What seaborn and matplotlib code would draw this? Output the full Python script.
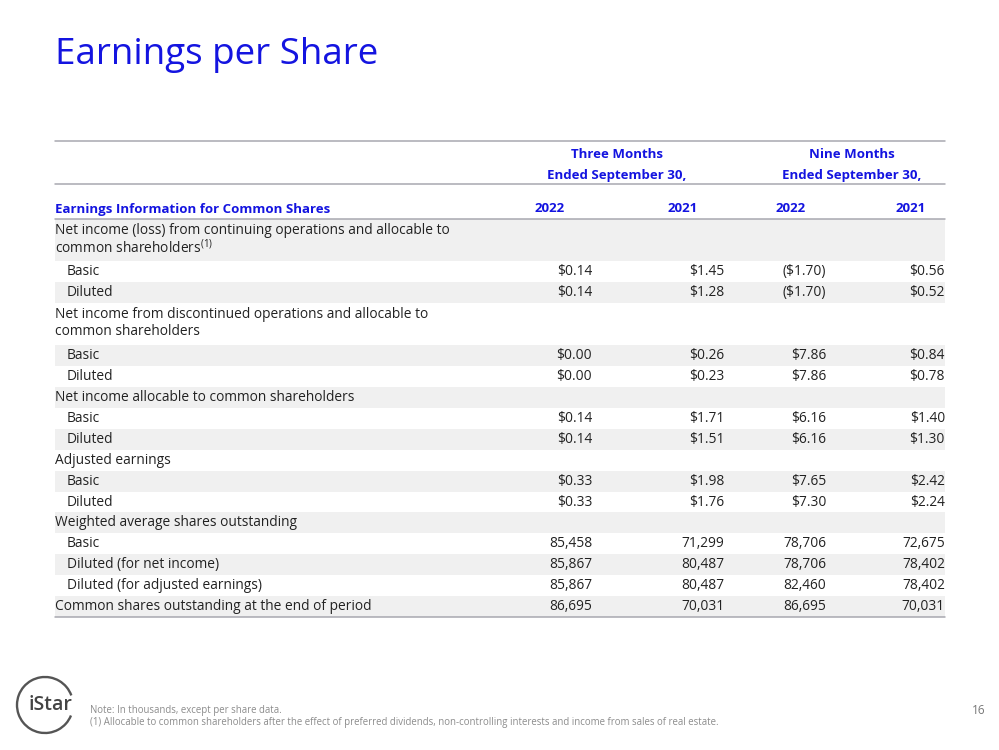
"""
Earnings per Share slide - table rebuilt with matplotlib/seaborn
"""
import numpy as np
import matplotlib.pyplot as plt
import seaborn as sns
from matplotlib.patches import Arc

sns.set_theme(style='white')
plt.rcParams['font.family'] = ['Open Sans', 'DejaVu Sans']
plt.rcParams['mathtext.fontset'] = 'custom'
plt.rcParams['mathtext.rm'] = 'Open Sans'

BLUE = '#1414E0'
TEXT = '#222222'
GRID = '#A8A8B0'
SHADE = '#F0F0F0'

# --- Data ---
line_items = [
    'Net income (loss) from continuing operations and allocable to\ncommon shareholders$^{(1)}$',
    'Basic', 'Diluted',
    'Net income from discontinued operations and allocable to\ncommon shareholders',
    'Basic', 'Diluted',
    'Net income allocable to common shareholders',
    'Basic', 'Diluted',
    'Adjusted earnings',
    'Basic', 'Diluted',
    'Weighted average shares outstanding',
    'Basic', 'Diluted (for net income)', 'Diluted (for adjusted earnings)',
    'Common shares outstanding at the end of period',
]
is_sub = [0, 1, 1, 0, 1, 1, 0, 1, 1, 0, 1, 1, 0, 1, 1, 1, 0]

three_2022 = [None, 0.14, 0.14, None, 0.00, 0.00, None, 0.14, 0.14, None, 0.33, 0.33,
              None, 85458, 85867, 85867, 86695]
three_2021 = [None, 1.45, 1.28, None, 0.26, 0.23, None, 1.71, 1.51, None, 1.98, 1.76,
              None, 71299, 80487, 80487, 70031]
nine_2022 = [None, -1.70, -1.70, None, 7.86, 7.86, None, 6.16, 6.16, None, 7.65, 7.30,
             None, 78706, 78706, 82460, 86695]
nine_2021 = [None, 0.56, 0.52, None, 0.84, 0.78, None, 1.40, 1.30, None, 2.42, 2.24,
             None, 72675, 78402, 78402, 70031]

periods = ['Three Months\nEnded September 30,', 'Nine Months\nEnded September 30,']
years = ['2022', '2021', '2022', '2021']
footnotes = ['Note: In thousands, except per share data.',
             '(1) Allocable to common shareholders after the effect of preferred dividends, '
             'non-controlling interests and income from sales of real estate.']


def fmt(v):
    if v is None:
        return ''
    if isinstance(v, int):
        return f'{v:,}'
    if v < 0:
        return f'(${abs(v):.2f})'
    return f'${v:.2f}'


# --- Layout (pixel space) ---
fig = plt.figure(figsize=(9.99, 7.5), dpi=100)
ax = fig.add_axes([0, 0, 1, 1])
ax.set_xlim(0, 999)
ax.set_ylim(750, 0)
ax.axis('off')

left, right = 55, 945
col_right = [592, 724, 826, 945]
year_right = [565, 698, 806, 926]
period_center = [617, 852]
fs = 9.9      # body text
fs_b = 9.5    # bold blue headers

ax.text(left, 55, 'Earnings per Share', fontsize=26.5, color=BLUE, va='center', ha='left')

# header block
for pc, ptxt in zip(period_center, periods):
    l1, l2 = ptxt.split('\n')
    ax.text(pc, 154, l1, fontsize=fs_b, color=BLUE, fontweight='bold', ha='center', va='center')
    ax.text(pc, 175, l2, fontsize=fs_b, color=BLUE, fontweight='bold', ha='center', va='center')
ax.text(left, 209, 'Earnings Information for Common Shares', fontsize=fs_b, color=BLUE,
        fontweight='bold', ha='left', va='center')
for xr, yr in zip(year_right, years):
    ax.text(xr, 209, yr, fontsize=fs_b, color=BLUE, fontweight='bold', ha='right', va='center')

# body rows
columns = [three_2022, three_2021, nine_2022, nine_2021]
y = 219
for i, label in enumerate(line_items):
    n_lines = label.count('\n') + 1
    h = 42 if n_lines == 2 else 20.95
    if i % 2 == 0:
        ax.axhspan(y, y + h, xmin=left / 999, xmax=right / 999, color=SHADE, lw=0, zorder=0)
    x0 = left + (12 if is_sub[i] else 0)
    if n_lines == 2:
        for k, part in enumerate(label.split('\n')):
            ax.text(x0, y + 12 + k * 17, part, fontsize=fs, color=TEXT, ha='left', va='center')
    else:
        ax.text(x0, y + h / 2, label, fontsize=fs, color=TEXT, ha='left', va='center')
    for xr, col in zip(col_right, columns):
        ax.text(xr, y + h / 2, fmt(col[i]), fontsize=fs, color=TEXT, ha='right', va='center')
    y += h

for yl in [141, 184, 219, y]:
    ax.plot([left, right], [yl, yl], color=GRID, lw=1.1, zorder=2)

# footer
ax.text(90, 710, footnotes[0], fontsize=6.9, color='#8C8C8C', ha='left', va='center')
ax.text(90, 723, footnotes[1], fontsize=6.9, color='#8C8C8C', ha='left', va='center')
ax.text(986, 711, '16', fontsize=8.5, color='#777777', ha='right', va='center')

# logo
ax.add_patch(Arc((45, 705), 56, 56, theta1=22, theta2=340, color='#555555', lw=1.7))
ax.text(50, 705, 'iStar', fontsize=14, color='#444444', fontweight='semibold',
        ha='center', va='center')

plt.savefig('out.png', dpi=100)
